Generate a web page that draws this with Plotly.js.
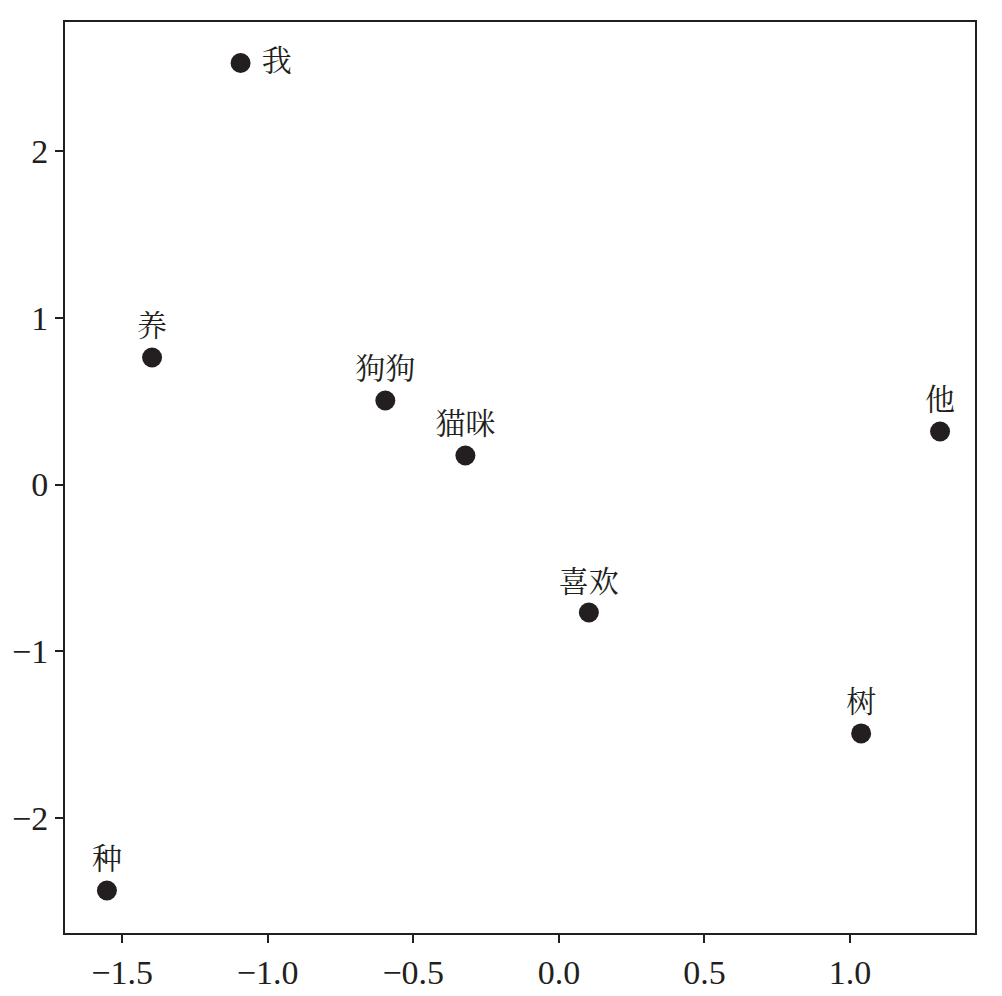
<!DOCTYPE html>
<html>
<head>
<meta charset="utf-8">
<script src="https://cdn.plot.ly/plotly-3.0.1.min.js"></script>
<style>html,body{margin:0;padding:0;background:#fff;}#chart{width:1002px;height:996px;}</style>
</head>
<body>
<div id="chart"></div>
<script>
const words = ["我", "养", "狗狗", "猫咪", "喜欢", "他", "树", "种"];
const xVals = [-1.093, -1.397, -0.596, -0.321, 0.103, 1.309, 1.038, -1.552];
const yVals = [2.528, 0.762, 0.504, 0.174, -0.768, 0.318, -1.493, -2.435];
const textPos = ["middle right", "top center", "top center", "top center", "top center", "top center", "top center", "top center"];
const xTicks = [-1.5, -1.0, -0.5, 0.0, 0.5, 1.0];
const yTicks = [-2, -1, 0, 1, 2];

const latinFont = "Liberation Serif";
const cjkFont = "Noto Serif CJK SC, Noto Sans CJK SC";
const trace = {
  x: xVals, y: yVals, text: words.map((w, i) => textPos[i] === "middle right" ? " " + w : w),
  mode: "markers+text", type: "scatter",
  textposition: textPos,
  marker: {size: 20, color: "#231f20"},
  textfont: {family: cjkFont, size: 30, color: "#231f20"},
  hoverinfo: "none", cliponaxis: false
};
const axisCommon = {
  showgrid: false, zeroline: false, showline: true, mirror: true,
  linecolor: "#231f20", linewidth: 2,
  ticks: "outside", ticklen: 8, tickwidth: 2, tickcolor: "#231f20",
  tickfont: {family: latinFont, size: 34, color: "#231f20"}
};
const layout = {
  width: 1002, height: 996,
  margin: {l: 65, r: 27, t: 22, b: 63},
  paper_bgcolor: "#fff", plot_bgcolor: "#fff",
  showlegend: false,
  xaxis: Object.assign({}, axisCommon, {range: [-1.696, 1.429], tickvals: xTicks, tickformat: ".1f"}),
  yaxis: Object.assign({}, axisCommon, {range: [-2.690, 2.774], tickvals: yTicks, tickformat: "d"})
};
Plotly.newPlot("chart", [trace], layout, {staticPlot: true});
</script>
</body>
</html>
